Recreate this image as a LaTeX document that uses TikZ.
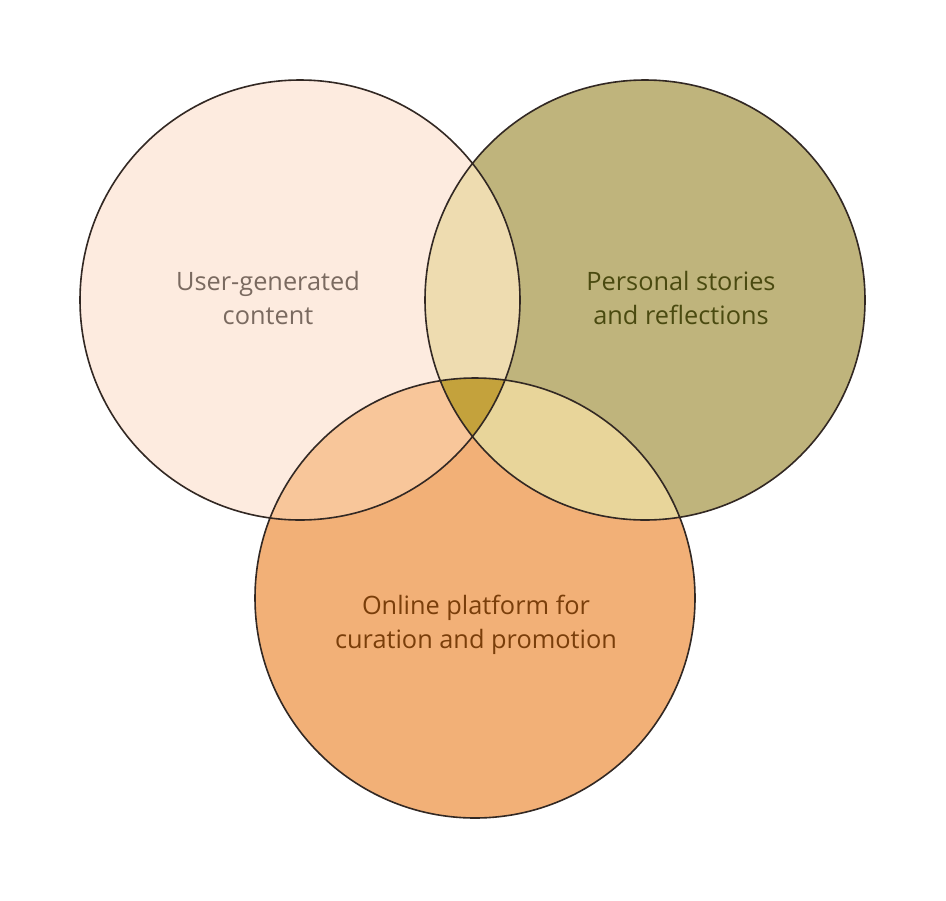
\documentclass[tikz,border=0pt]{standalone}
\usepackage{fontspec}
\setmainfont{Open Sans}
\begin{document}
\begin{tikzpicture}[x=0.75pt,y=-0.75pt,
  lbl/.style={align=center,font=\fontsize{19}{25}\selectfont}]
\useasboundingbox (0,0) rectangle (946,900);
\fill[white] (0,0) rectangle (946,900);
\def\ca{(300,300) circle[radius=220]}
\def\cb{(645,300) circle[radius=220]}
\def\cc{(475,598) circle[radius=220]}
\fill[fill={rgb,255:red,253;green,235;blue,223}] \ca;
\fill[fill={rgb,255:red,191;green,180;blue,124}] \cb;
\fill[fill={rgb,255:red,242;green,176;blue,119}] \cc;
\begin{scope}\clip \ca; \fill[fill={rgb,255:red,238;green,220;blue,176}] \cb; \end{scope}
\begin{scope}\clip \ca; \fill[fill={rgb,255:red,248;green,198;blue,154}] \cc; \end{scope}
\begin{scope}\clip \cb; \fill[fill={rgb,255:red,232;green,213;blue,154}] \cc; \end{scope}
\begin{scope}\clip \ca; \clip \cb; \fill[fill={rgb,255:red,196;green,162;blue,60}] \cc; \end{scope}
\draw[line width=1.2pt,draw={rgb,255:red,50;green,40;blue,35}] \ca \cb \cc;
\node[lbl,text={rgb,255:red,122;green,106;blue,96}] (a) at (268,298) {User-generated\\content};
\node[lbl,text={rgb,255:red,74;green,74;blue,16}] (b) at (681,298) {Personal stories\\and reflections};
\node[lbl,text={rgb,255:red,122;green,62;blue,10}] (c) at (476,625) {Online platform for\\curation and promotion};
\end{tikzpicture}
\end{document}
